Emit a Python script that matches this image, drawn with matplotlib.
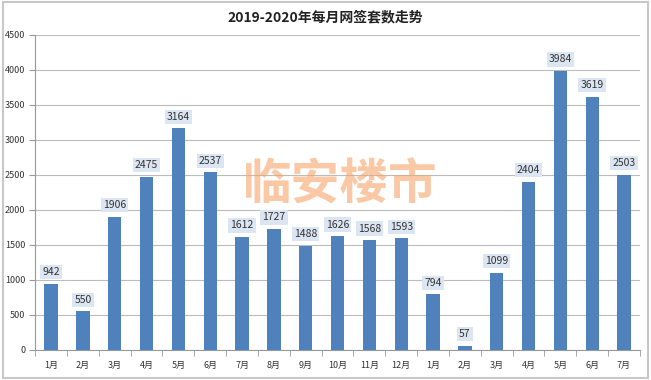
import matplotlib
matplotlib.use("Agg")
import matplotlib.pyplot as plt
from matplotlib.patches import Rectangle

plt.rcParams["font.family"] = ["Noto Sans CJK SC", "DejaVu Sans"]

# 数据
months = ["1月", "2月", "3月", "4月", "5月", "6月", "7月", "8月", "9月", "10月",
          "11月", "12月", "1月", "2月", "3月", "4月", "5月", "6月", "7月"]
values = [942, 550, 1906, 2475, 3164, 2537, 1612, 1727, 1488, 1626,
          1568, 1593, 794, 57, 1099, 2404, 3984, 3619, 2503]
yticks = list(range(0, 4501, 500))

fig = plt.figure(figsize=(6.51, 3.80), dpi=100)
ax = fig.add_axes([0.054, 0.079, 0.929, 0.829])

x = list(range(len(values)))
ax.bar(x, values, width=0.42, color="#4F81BD", zorder=3)

for xi, v in zip(x, values):
    ax.text(xi, v + 95, str(v), ha="center", va="bottom", fontsize=7.5, color="#333333",
            bbox=dict(boxstyle="square,pad=0.2", fc="#DCE6F2", ec="none"), zorder=4)

ax.set_xlim(-0.5, len(values) - 0.5)
ax.set_ylim(0, 4500)
ax.set_yticks(yticks)
ax.set_yticklabels([str(t) for t in yticks], fontsize=6.5, color="#333333")
ax.set_xticks(x)
ax.set_xticklabels(months, fontsize=6.5, color="#333333")
ax.set_xticks([i - 0.5 for i in range(len(values) + 1)], minor=True)
ax.tick_params(axis="x", which="major", length=0, pad=8)
ax.tick_params(axis="x", which="minor", length=4, color="#999999")
ax.tick_params(axis="y", length=4, color="#999999", pad=3)
ax.grid(axis="y", color="#BBBBBB", linewidth=0.8, zorder=0)
for s in ["top", "right"]:
    ax.spines[s].set_visible(False)
ax.spines["left"].set_color("#999999")
ax.spines["bottom"].set_color("#999999")

# 标题
fig.text(0.5, 0.953, "2019-2020年每月网签套数走势", ha="center", va="center",
         fontsize=10, fontweight="bold", color="#222222")

# 水印
fig.text(0.522, 0.512, "临安楼市", ha="center", va="center", fontsize=35,
         fontweight="bold", color="#F7A468", alpha=0.6, zorder=2)

# 外框
fig.patches.append(Rectangle((0.004, 0.006), 0.992, 0.988, transform=fig.transFigure,
                             fill=False, ec="#C8C8C8", lw=1.5))

fig.savefig("out.png", dpi=100)
